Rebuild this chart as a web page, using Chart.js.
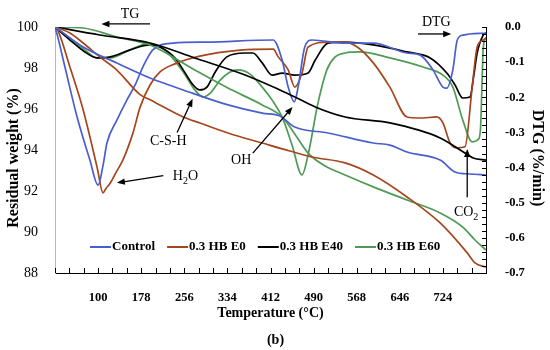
<!DOCTYPE html>
<html>
<head>
<meta charset="utf-8">
<script src="https://cdn.jsdelivr.net/npm/chart.js@4.4.0/dist/chart.umd.min.js"></script>
<style>
html, body { margin: 0; padding: 0; background: #fff; }
</style>
</head>
<body>
<canvas id="mainChart" width="550" height="350"></canvas>
<script>
// TG curves (left axis, residual weight %)
const tgControlT = [22, 73, 134, 194, 254, 335, 397, 429, 456, 516, 598, 628, 659, 719, 746, 773, 802];
const tgControlW = [100, 99.02, 98.24, 97.51, 96.93, 96.20, 95.80, 95.66, 95.12, 94.83, 94.34, 94.24, 93.90, 93.51, 92.93, 92.83, 92.78];
const tgE0T = [22, 49, 73, 103, 134, 176, 194, 254, 284, 335, 397, 447, 487, 547, 598, 659, 719, 768, 782, 802];
const tgE0W = [100, 99.71, 99.22, 98.54, 97.90, 96.7, 96.45, 95.61, 95.32, 94.83, 94.34, 93.95, 93.66, 93.37, 92.78, 91.71, 90.44, 88.98, 88.49, 88.29];
const tgE40T = [22, 103, 194, 275, 366, 429, 456, 493, 547, 628, 719, 764, 779, 802];
const tgE40W = [100, 99.61, 99.22, 98.49, 97.66, 96.93, 96.59, 96.10, 95.61, 95.32, 94.59, 93.85, 93.61, 93.51];
const tgE60T = [22, 73, 134, 194, 275, 335, 397, 433, 451, 480, 511, 547, 598, 659, 719, 760, 782, 802];
const tgE60W = [100, 99.95, 99.51, 99.12, 97.90, 97.02, 96.20, 95.61, 94.98, 93.85, 93.22, 92.78, 92.20, 91.56, 90.93, 90.24, 89.61, 89.12];

// DTG curves (right axis, %/min)
const dtgControlT = [22, 27, 40, 62, 85, 100, 109, 116, 134, 152, 167, 181, 199, 236, 297, 417, 433, 444, 455, 462, 474, 487, 547, 598, 659, 683, 706, 724, 731, 742, 750, 760, 802];
const dtgControlR = [0, -0.028, -0.114, -0.256, -0.378, -0.450, -0.393, -0.330, -0.265, -0.208, -0.165, -0.114, -0.065, -0.046, -0.043, -0.037, -0.094, -0.171, -0.213, -0.171, -0.057, -0.037, -0.046, -0.046, -0.074, -0.080, -0.122, -0.171, -0.174, -0.122, -0.037, -0.023, -0.017];
const dtgE0T = [22, 27, 49, 73, 98, 109, 114, 122, 132, 145, 163, 176, 194, 212, 239, 284, 357, 417, 426, 444, 456, 469, 480, 516, 547, 569, 598, 628, 659, 683, 713, 724, 737, 750, 764, 777, 786, 797, 802];
const dtgE0R = [0, -0.009, -0.114, -0.236, -0.398, -0.472, -0.460, -0.444, -0.415, -0.378, -0.302, -0.228, -0.165, -0.128, -0.105, -0.083, -0.066, -0.063, -0.085, -0.122, -0.171, -0.131, -0.057, -0.043, -0.043, -0.057, -0.102, -0.171, -0.256, -0.259, -0.256, -0.273, -0.330, -0.344, -0.341, -0.171, -0.057, -0.037, -0.031];
const dtgE40T = [22, 49, 76, 98, 122, 158, 194, 212, 239, 254, 272, 284, 297, 312, 333, 366, 380, 397, 415, 433, 456, 480, 493, 516, 547, 598, 659, 701, 731, 746, 760, 773, 780, 786, 797, 802];
const dtgE40R = [0, -0.037, -0.071, -0.088, -0.085, -0.065, -0.051, -0.057, -0.088, -0.122, -0.165, -0.179, -0.171, -0.128, -0.085, -0.074, -0.074, -0.102, -0.137, -0.131, -0.137, -0.131, -0.094, -0.046, -0.043, -0.051, -0.071, -0.088, -0.131, -0.165, -0.202, -0.199, -0.137, -0.074, -0.023, -0.017];
const dtgE60T = [22, 49, 76, 98, 122, 158, 189, 212, 230, 254, 275, 290, 303, 321, 339, 353, 375, 397, 415, 433, 451, 469, 480, 498, 514, 529, 547, 574, 628, 688, 724, 742, 760, 777, 788, 792, 795, 797, 802];
const dtgE60R = [0, -0.031, -0.065, -0.088, -0.088, -0.065, -0.048, -0.057, -0.080, -0.128, -0.179, -0.199, -0.188, -0.151, -0.128, -0.122, -0.134, -0.171, -0.208, -0.256, -0.336, -0.421, -0.364, -0.216, -0.122, -0.085, -0.074, -0.071, -0.088, -0.114, -0.137, -0.171, -0.265, -0.327, -0.320, -0.290, -0.150, -0.060, -0.030];

const seriesNames = ['Control', '0.3 HB E0', '0.3 HB E40', '0.3 HB E60'];
const seriesColors = ['#4a5fcf', '#a5461e', '#000000', '#4f9b55'];

// axes
const xTickValues = [22, 48, 74, 100, 126, 152, 178, 204, 230, 256, 282, 308, 334, 360, 386, 412, 438, 464, 490, 516, 542, 568, 594, 620, 646, 672, 698, 724, 750, 776, 802];
const xTickLabels = [100, 178, 256, 334, 412, 490, 568, 646, 724];
const leftTicks = [88, 90, 92, 94, 96, 98, 100];
const rightTicks = [0, -0.1, -0.2, -0.3, -0.4, -0.5, -0.6, -0.7];
const rightMinorStep = 0.02;

// annotations, in (temperature, weight) coordinates
const notes = [
    { parts: [['TG']], x: 158, y: 100.6 },
    { parts: [['DTG']], x: 712, y: 100.25 },
    { parts: [['C-S-H']], x: 227, y: 94.4 },
    { parts: [['H'], ['2', 'sub'], ['O']], x: 258, y: 92.7 },
    { parts: [['OH']], x: 359, y: 93.5 },
    { parts: [['CO'], ['2', 'sub']], x: 766, y: 90.95 }
];
const arrows = [
    { from: [194, 100.15], to: [106, 100.15] },
    { from: [679, 99.66], to: [739, 99.66] },
    { from: [243, 94.85], to: [271, 96.5] },
    { from: [218, 92.75], to: [134, 92.4] },
    { from: [380, 93.85], to: [452, 96.1] },
    { from: [768, 91.7], to: [768, 94.05] }
];

const FONT = "'Liberation Serif', 'Times New Roman', serif";

function toPoints(xs, ys) {
    return xs.map((x, i) => ({ x: x, y: ys[i] }));
}

function line(label, xs, ys, color, axis) {
    return {
        label: label,
        data: toPoints(xs, ys),
        borderColor: color,
        backgroundColor: color,
        borderWidth: 1.7,
        pointRadius: 0,
        fill: false,
        cubicInterpolationMode: 'monotone',
        yAxisID: axis
    };
}

const tickMarks = {
    id: 'tickMarks',
    afterDraw(chart) {
        const ctx = chart.ctx;
        const x = chart.scales.x, y2 = chart.scales.y2;
        ctx.save();
        ctx.strokeStyle = '#000';
        ctx.lineWidth = 1;
        ctx.beginPath();
        xTickValues.forEach(v => {
            const px = Math.round(x.getPixelForValue(v)) + 0.5;
            ctx.moveTo(px, x.top);
            ctx.lineTo(px, x.top - 5);
        });
        for (let v = 0; v >= -0.7001; v -= rightMinorStep) {
            const py = Math.round(y2.getPixelForValue(v)) + 0.5;
            ctx.moveTo(y2.left, py);
            ctx.lineTo(y2.left - 4, py);
        }
        ctx.stroke();
        ctx.restore();
    }
};

const notesPlugin = {
    id: 'notes',
    afterDraw(chart) {
        const ctx = chart.ctx;
        const x = chart.scales.x, y = chart.scales.y;
        const area = chart.chartArea;
        ctx.save();
        ctx.fillStyle = '#000';
        ctx.strokeStyle = '#000';
        ctx.textBaseline = 'middle';

        // text labels
        notes.forEach(n => {
            const cx = x.getPixelForValue(n.x), cy = y.getPixelForValue(n.y);
            let w = 0;
            n.parts.forEach(p => {
                ctx.font = (p[1] ? '10px ' : '14px ') + FONT;
                w += ctx.measureText(p[0]).width;
            });
            let px = cx - w / 2;
            ctx.textAlign = 'left';
            n.parts.forEach(p => {
                ctx.font = (p[1] ? '10px ' : '14px ') + FONT;
                ctx.fillText(p[0], px, p[1] ? cy + 5 : cy);
                px += ctx.measureText(p[0]).width;
            });
        });

        // arrows
        ctx.lineWidth = 1.3;
        arrows.forEach(a => {
            const x1 = x.getPixelForValue(a.from[0]), y1 = y.getPixelForValue(a.from[1]);
            const x2 = x.getPixelForValue(a.to[0]), y2 = y.getPixelForValue(a.to[1]);
            const ang = Math.atan2(y2 - y1, x2 - x1);
            ctx.beginPath();
            ctx.moveTo(x1, y1);
            ctx.lineTo(x2 - 5 * Math.cos(ang), y2 - 5 * Math.sin(ang));
            ctx.stroke();
            ctx.beginPath();
            ctx.moveTo(x2, y2);
            ctx.lineTo(x2 - 8 * Math.cos(ang) + 3.2 * Math.sin(ang), y2 - 8 * Math.sin(ang) - 3.2 * Math.cos(ang));
            ctx.lineTo(x2 - 8 * Math.cos(ang) - 3.2 * Math.sin(ang), y2 - 8 * Math.sin(ang) + 3.2 * Math.cos(ang));
            ctx.closePath();
            ctx.fill();
        });

        // legend inside the plot
        ctx.font = 'bold 13px ' + FONT;
        let lx = area.left + 35;
        const ly = area.bottom - 26;
        seriesNames.forEach((name, i) => {
            ctx.strokeStyle = seriesColors[i];
            ctx.lineWidth = 2;
            ctx.beginPath();
            ctx.moveTo(lx, ly);
            ctx.lineTo(lx + 21, ly);
            ctx.stroke();
            ctx.fillStyle = '#000';
            ctx.fillText(name, lx + 22, ly);
            lx += 22 + ctx.measureText(name).width + 12;
        });

        // axis titles, set a little below the plot centre as in the original
        const midY = (area.top + area.bottom) / 2 + 8;
        ctx.font = 'bold 16px ' + FONT;
        ctx.textAlign = 'center';
        ctx.save();
        ctx.translate(14, midY);
        ctx.rotate(-Math.PI / 2);
        ctx.fillText('Residual weight (%)', 0, 0);
        ctx.restore();
        ctx.save();
        ctx.translate(537, midY);
        ctx.rotate(Math.PI / 2);
        ctx.fillText('DTG (%/min)', 0, 0);
        ctx.restore();

        // panel label
        ctx.font = 'bold 14px ' + FONT;
        ctx.fillText('(b)', (area.left + area.right) / 2 + 5, 340);
        ctx.restore();
    }
};

function initCharts() {
    const ctx = document.getElementById('mainChart');
    if (!ctx) return;

    new Chart(ctx, {
        type: 'line',
        data: {
            datasets: [
                line('Control', tgControlT, tgControlW, seriesColors[0], 'y'),
                line('0.3 HB E0', tgE0T, tgE0W, seriesColors[1], 'y'),
                line('0.3 HB E40', tgE40T, tgE40W, seriesColors[2], 'y'),
                line('0.3 HB E60', tgE60T, tgE60W, seriesColors[3], 'y'),
                line('Control DTG', dtgControlT, dtgControlR, seriesColors[0], 'y2'),
                line('0.3 HB E0 DTG', dtgE0T, dtgE0R, seriesColors[1], 'y2'),
                line('0.3 HB E40 DTG', dtgE40T, dtgE40R, seriesColors[2], 'y2'),
                line('0.3 HB E60 DTG', dtgE60T, dtgE60R, seriesColors[3], 'y2')
            ]
        },
        options: {
            responsive: false,
            animation: false,
            layout: { padding: { top: 27, left: 0, right: 0, bottom: 0 } },
            plugins: {
                legend: { display: false },
                tooltip: { enabled: false }
            },
            scales: {
                x: {
                    type: 'linear',
                    min: 22,
                    max: 802,
                    afterFit: s => { s.height = 77; },
                    afterBuildTicks: s => { s.ticks = xTickValues.map(v => ({ value: v })); },
                    grid: { display: false },
                    border: { display: true, color: '#000', width: 1 },
                    ticks: {
                        autoSkip: false,
                        maxRotation: 0,
                        padding: 9,
                        color: '#000',
                        font: { family: FONT, size: 12.5, weight: 'bold' },
                        callback: v => xTickLabels.includes(v) ? String(v) : ''
                    },
                    title: {
                        display: true,
                        text: 'Temperature (\u00B0C)',
                        color: '#000',
                        font: { family: FONT, size: 14, weight: 'bold' },
                        padding: { top: 0, bottom: 28 }
                    }
                },
                y: {
                    position: 'left',
                    min: 88,
                    max: 100,
                    afterFit: s => { s.width = 55; },
                    afterBuildTicks: s => { s.ticks = leftTicks.map(v => ({ value: v })); },
                    grid: { display: false },
                    border: { display: true, color: '#b8b8b8', width: 1 },
                    ticks: {
                        padding: 9,
                        color: '#000',
                        font: { family: FONT, size: 14 }
                    }
                },
                y2: {
                    position: 'right',
                    min: -0.7,
                    max: 0,
                    afterFit: s => { s.width = 64; },
                    afterBuildTicks: s => { s.ticks = rightTicks.map(v => ({ value: v })); },
                    grid: { display: false },
                    border: { display: true, color: '#000', width: 1 },
                    ticks: {
                        padding: 11,
                        color: '#000',
                        font: { family: FONT, size: 12.5, weight: 'bold' },
                        callback: v => v.toFixed(1)
                    }
                }
            }
        },
        plugins: [tickMarks, notesPlugin]
    });
}

initCharts();
</script>
</body>
</html>
